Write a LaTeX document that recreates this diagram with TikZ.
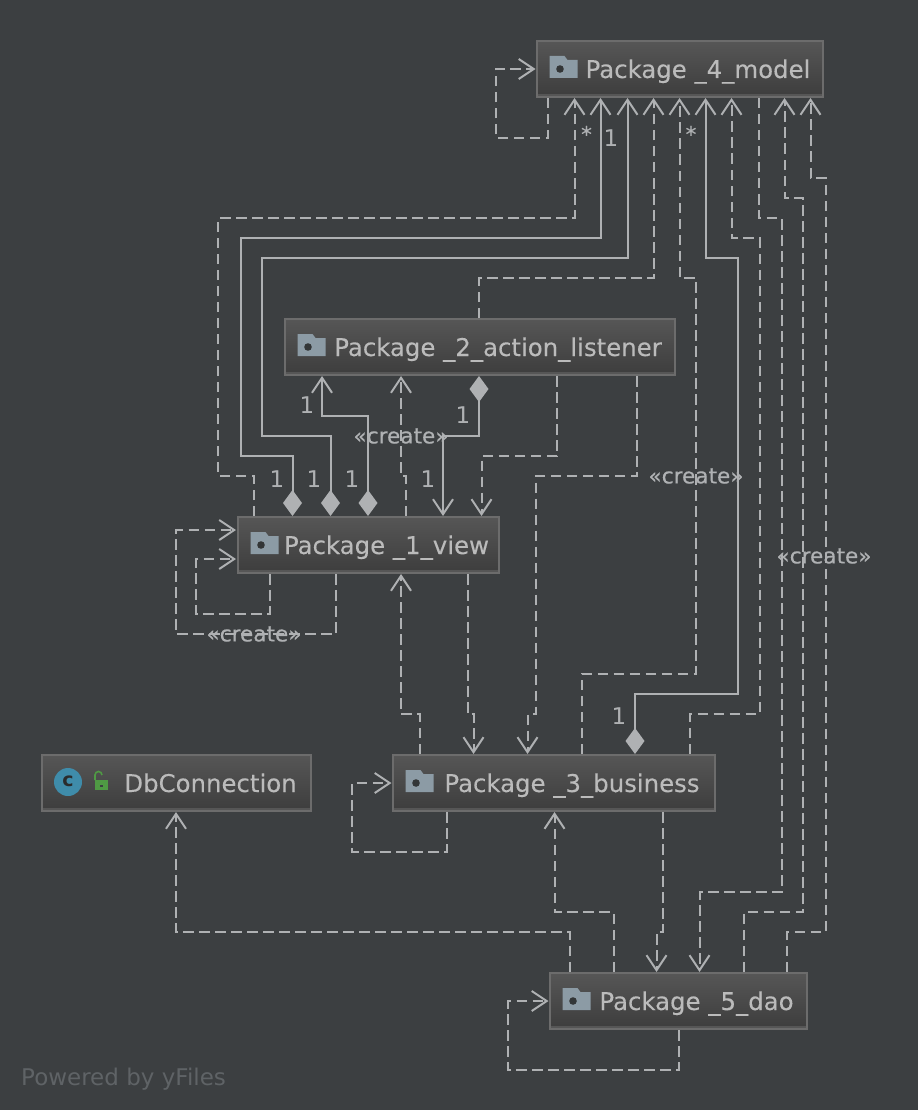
\documentclass[tikz,border=0pt]{standalone}
\usepackage{fontspec}
\setmainfont{DejaVu Sans}
\newfontfamily\boxfont[FakeBold=0.15]{DejaVu Sans}
\newfontfamily\labelfont[FakeBold=0.25]{DejaVu Sans}
\usetikzlibrary{arrows.meta}
\definecolor{bgcolor}{HTML}{3C3F41}
\definecolor{linecolor}{HTML}{AFB1B3}
\definecolor{textcolor}{HTML}{BBBBBB}
\definecolor{boxline}{HTML}{6C6C6C}
\definecolor{boxtop}{HTML}{565656}
\definecolor{boxbottom}{HTML}{3D3D3D}
\definecolor{foldercolor}{HTML}{8C9BA5}
\definecolor{classcolor}{HTML}{3F8CAA}
\definecolor{lockcolor}{HTML}{4F9A44}
\definecolor{footcolor}{HTML}{5F6366}
\tikzset{
  pkgbox/.style={draw=boxline, line width=2pt, top color=boxtop, bottom color=boxbottom,
    minimum height=56pt, inner sep=0pt, text height=22pt, text depth=4pt, text=textcolor,
    font=\boxfont\fontsize{24.4}{28}\selectfont,
    path picture={\fill[boxtop] ([yshift=3pt]path picture bounding box.south west) rectangle (path picture bounding box.south east);}},
  dep/.style={->, linecolor, line width=2pt, dash pattern=on 10.5pt off 5.5pt},
  owned/.style={{Diamond[length=26pt,width=19pt]}->, linecolor, line width=2pt},
  onelabel/.style={text=linecolor, font=\fontsize{23}{26}\selectfont, inner sep=0pt},
  looplabel/.style={text=linecolor, font=\labelfont\fontsize{21.6}{24}\selectfont, inner sep=0pt},
  pkgicon/.pic={
    \fill[foldercolor] (0,-13) -- (15,-13) -- (18,-9) -- (28,-9) -- (28,9) -- (0,9) -- cycle;
    \fill[bgcolor!85!black] (10.5,0) circle (3.8);
  }
}
\begin{document}
\begin{tikzpicture}[x=1pt, y=-1pt, >={Straight Barb[length=15pt,width=20pt]}]
    \fill[bgcolor] (0,0) rectangle (918,1110);
    \useasboundingbox (0,0) rectangle (918,1110);

    % Package boxes
    \node[pkgbox, minimum width=286pt] (model) at (679.5,69) {\hspace*{37pt}Package \_4\_model};
    \node[pkgbox, minimum width=390pt] (action) at (479.5,347) {\hspace*{37pt}Package \_2\_action\_listener};
    \node[pkgbox, minimum width=261pt] (view) at (368,545) {\hspace*{37pt}Package \_1\_view};
    \node[pkgbox, minimum width=322pt] (business) at (553.5,783) {\hspace*{37pt}Package \_3\_business};
    \node[pkgbox, minimum width=257pt] (dao) at (678,1001) {\hspace*{37pt}Package \_5\_dao};
    \node[pkgbox, minimum width=269pt] (db) at (176,783) {\hspace*{69pt}DbConnection};

    % Folder icons
    \foreach \pkg in {model, action, view, business, dao}
        \pic at ([xshift=14pt]\pkg.west) {pkgicon};

    % Class and lock icons of DbConnection
    \fill[classcolor] (68,782) circle (14);
    \node[text=bgcolor!70!black, font=\fontsize{19}{20}\selectfont\bfseries, inner sep=0pt] (classmark) at (68,781) {c};
    \fill[lockcolor] (95,780) rectangle (108,790);
    \draw[lockcolor, line width=1.6pt] (95,780) -- (95,775) arc (180:360:3.5 and 3.5);
    \fill[bgcolor] (100,785) rectangle (103,787);

    % Self loops
    \draw[dep] (548,0 |- model.south) -- (548,138) -- (495.5,138) -- (495.5,69) -- (model.west);
    \draw[dep] (269.5,0 |- view.south) -- (269.5,614) -- (196,614) -- (196,559) -- (236,559);
    \draw[dep] (335.5,0 |- view.south) -- (335.5,634) -- (176,634) -- (176,530) -- (236,530);
    \draw[dep] (446.5,0 |- business.south) -- (446.5,852) -- (352,852) -- (352,783) -- (business.west);
    \draw[dep] (678.5,0 |- dao.south) -- (678.5,1070) -- (508,1070) -- (508,1001) -- (dao.west);

    % Into the model package
    \draw[dep] (254,0 |- view.north) -- (254,476) -- (218,476) -- (218,218) -- (574.5,218) -- (574.5,0 |- model.south);
    \draw[owned] (292.5,0 |- view.north) -- (292.5,456) -- (240.5,456) -- (240.5,238) -- (600.5,238) -- (600.5,0 |- model.south);
    \draw[owned] (330.5,0 |- view.north) -- (330.5,436) -- (262,436) -- (262,258) -- (627.5,258) -- (627.5,0 |- model.south);
    \draw[dep] (479,0 |- action.north) -- (479,278) -- (653.5,278) -- (653.5,0 |- model.south);
    \draw[dep] (581.5,0 |- business.north) -- (581.5,674) -- (696,674) -- (696,278) -- (679.5,278) -- (679.5,0 |- model.south);
    \draw[owned] (635,0 |- business.north) -- (635,694) -- (737.5,694) -- (737.5,258) -- (705.5,258) -- (705.5,0 |- model.south);
    \draw[dep] (689.5,0 |- business.north) -- (689.5,714) -- (759.5,714) -- (759.5,238) -- (731.5,238) -- (731.5,0 |- model.south);
    \draw[dep] (743.5,0 |- dao.north) -- (743.5,912) -- (803,912) -- (803,198) -- (784.5,198) -- (784.5,0 |- model.south);
    \draw[dep] (786.5,0 |- dao.north) -- (786.5,932) -- (825.5,932) -- (825.5,178) -- (810.5,178) -- (810.5,0 |- model.south);

    % Between view and action listener
    \draw[owned] (368,0 |- view.north) -- (368,416) -- (322,416) -- (322,0 |- action.south);
    \draw[dep] (405.5,0 |- view.north) -- (405.5,476) -- (401,476) -- (401,0 |- action.south);
    \draw[owned] (479,0 |- action.south) -- (479,436) -- (443,436) -- (443,0 |- view.north);
    \draw[dep] (557,0 |- action.south) -- (557,456) -- (481.5,456) -- (481.5,0 |- view.north);

    % Down to the business package
    \draw[dep] (637,0 |- action.south) -- (637,476) -- (535.5,476) -- (535.5,714) -- (527.5,714) -- (527.5,0 |- business.north);
    \draw[dep] (467.5,0 |- view.south) -- (467.5,714) -- (473.5,714) -- (473.5,0 |- business.north);
    \draw[dep] (419.5,0 |- business.north) -- (419.5,714) -- (401,714) -- (401,0 |- view.south);

    % Around the dao package
    \draw[dep] (758.5,0 |- model.south) -- (758.5,218) -- (781.5,218) -- (781.5,892) -- (699.5,892) -- (699.5,0 |- dao.north);
    \draw[dep] (569.5,0 |- dao.north) -- (569.5,932) -- (176,932) -- (176,0 |- db.south);
    \draw[dep] (613.5,0 |- dao.north) -- (613.5,912) -- (554.5,912) -- (554.5,0 |- business.south);
    \draw[dep] (662.5,0 |- business.south) -- (662.5,932) -- (656.5,932) -- (656.5,0 |- dao.north);

    % Multiplicities and stereotypes
    \foreach \name/\xpos/\ypos in {a/611/138, b/277/479, c/314/479, d/352/479, e/307/405, f/463/415, g/428/479, h/619/716}
        \node[onelabel] (one\name) at (\xpos,\ypos) {1};
    \node[looplabel] (starA) at (586.5,134) {*};
    \node[looplabel] (starB) at (691,134) {*};
    \foreach \name/\xpos/\ypos in {a/401/436, b/696/476, c/824/556, d/254/634}
        \node[looplabel] (create\name) at (\xpos,\ypos) {«create»};

    \node[text=footcolor, font=\fontsize{23}{26}\selectfont, anchor=west, inner sep=0pt] (powered) at (21,1079) {Powered by yFiles};
\end{tikzpicture}
\end{document}
